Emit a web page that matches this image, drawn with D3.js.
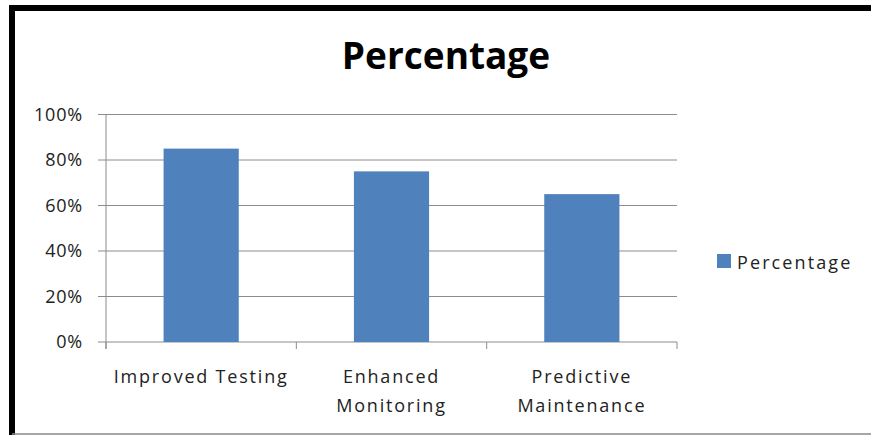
<!DOCTYPE html>
<html><head><meta charset="utf-8">
<script src="https://cdn.jsdelivr.net/npm/d3@7"></script>
<style>body{margin:0;background:#fff}svg{display:block}</style>
</head><body>
<svg id="c" width="871" height="435"></svg>
<script>
const categories = [["Improved Testing"], ["Enhanced", "Monitoring"], ["Predictive", "Maintenance"]];
const values = [85, 75, 65];
const yTicks = [0, 20, 40, 60, 80, 100];
const seriesName = "Percentage";
const title = "Percentage";

const svg = d3.select("#c");
const font = "'Open Sans', sans-serif";
const m = {left: 106, right: 677, top: 114.5, bottom: 342};

// frame
svg.append("rect").attr("x", 12).attr("y", 8).attr("width", 900).attr("height", 600)
  .attr("fill", "none").attr("stroke", "#000").attr("stroke-width", 6);
svg.append("line").attr("x1", 12).attr("x2", 871).attr("y1", 434).attr("y2", 434)
  .attr("stroke", "#888").attr("stroke-width", 1.5);

const x = d3.scaleBand().domain(d3.range(categories.length)).range([m.left, m.right]).paddingInner(0.605).paddingOuter(0.3025);
const xb = d3.scaleBand().domain(d3.range(categories.length)).range([m.left, m.right]);
const y = d3.scaleLinear().domain([0, 100]).range([m.bottom, m.top]);

// gridlines
svg.append("g").selectAll("line").data(yTicks).join("line")
  .attr("x1", 98).attr("x2", m.right).attr("y1", d => y(d)).attr("y2", d => y(d))
  .attr("stroke", "#8c8c8c").attr("stroke-width", 1);
// y axis line
svg.append("line").attr("x1", m.left).attr("x2", m.left).attr("y1", m.top).attr("y2", m.bottom + 7)
  .attr("stroke", "#8c8c8c");
// x category ticks
svg.append("g").selectAll("line").data(d3.range(categories.length + 1)).join("line")
  .attr("x1", i => m.left + i * xb.bandwidth()).attr("x2", i => m.left + i * xb.bandwidth())
  .attr("y1", m.bottom).attr("y2", m.bottom + 7).attr("stroke", "#8c8c8c");

// bars
svg.append("g").selectAll("rect").data(values).join("rect")
  .attr("x", (d, i) => x(i)).attr("width", x.bandwidth())
  .attr("y", d => y(d)).attr("height", d => y(0) - y(d))
  .attr("fill", "#4f81bd");

// y labels
svg.append("g").selectAll("text").data(yTicks).join("text")
  .attr("x", 83).attr("y", d => y(d)).attr("dy", "0.35em").attr("text-anchor", "end")
  .attr("font-family", font).attr("font-size", 18).attr("fill", "#222")
  .attr("letter-spacing", 0.8)
  .text(d => d + "%");

// x labels
const xl = svg.append("g").selectAll("text").data(categories).join("text")
  .attr("text-anchor", "middle").attr("font-family", font).attr("font-size", 18).attr("fill", "#222")
  .attr("letter-spacing", 1.8)
  .attr("transform", (d, i) => `translate(${xb(i) + xb.bandwidth() / 2},383)`);
xl.selectAll("tspan").data(d => d).join("tspan")
  .attr("x", 0).attr("y", (d, j) => j * 29).text(d => d);

// title
svg.append("text").attr("x", 446).attr("y", 69).attr("text-anchor", "middle")
  .attr("font-family", font).attr("font-weight", "bold").attr("font-size", 37).attr("fill", "#000")
  .text(title);

// legend
svg.append("rect").attr("x", 717).attr("y", 254).attr("width", 14).attr("height", 14).attr("fill", "#4f81bd");
svg.append("text").attr("x", 737).attr("y", 269)
  .attr("font-family", font).attr("font-size", 18).attr("fill", "#222")
  .attr("letter-spacing", 2.1).text(seriesName);
</script>
</body></html>
